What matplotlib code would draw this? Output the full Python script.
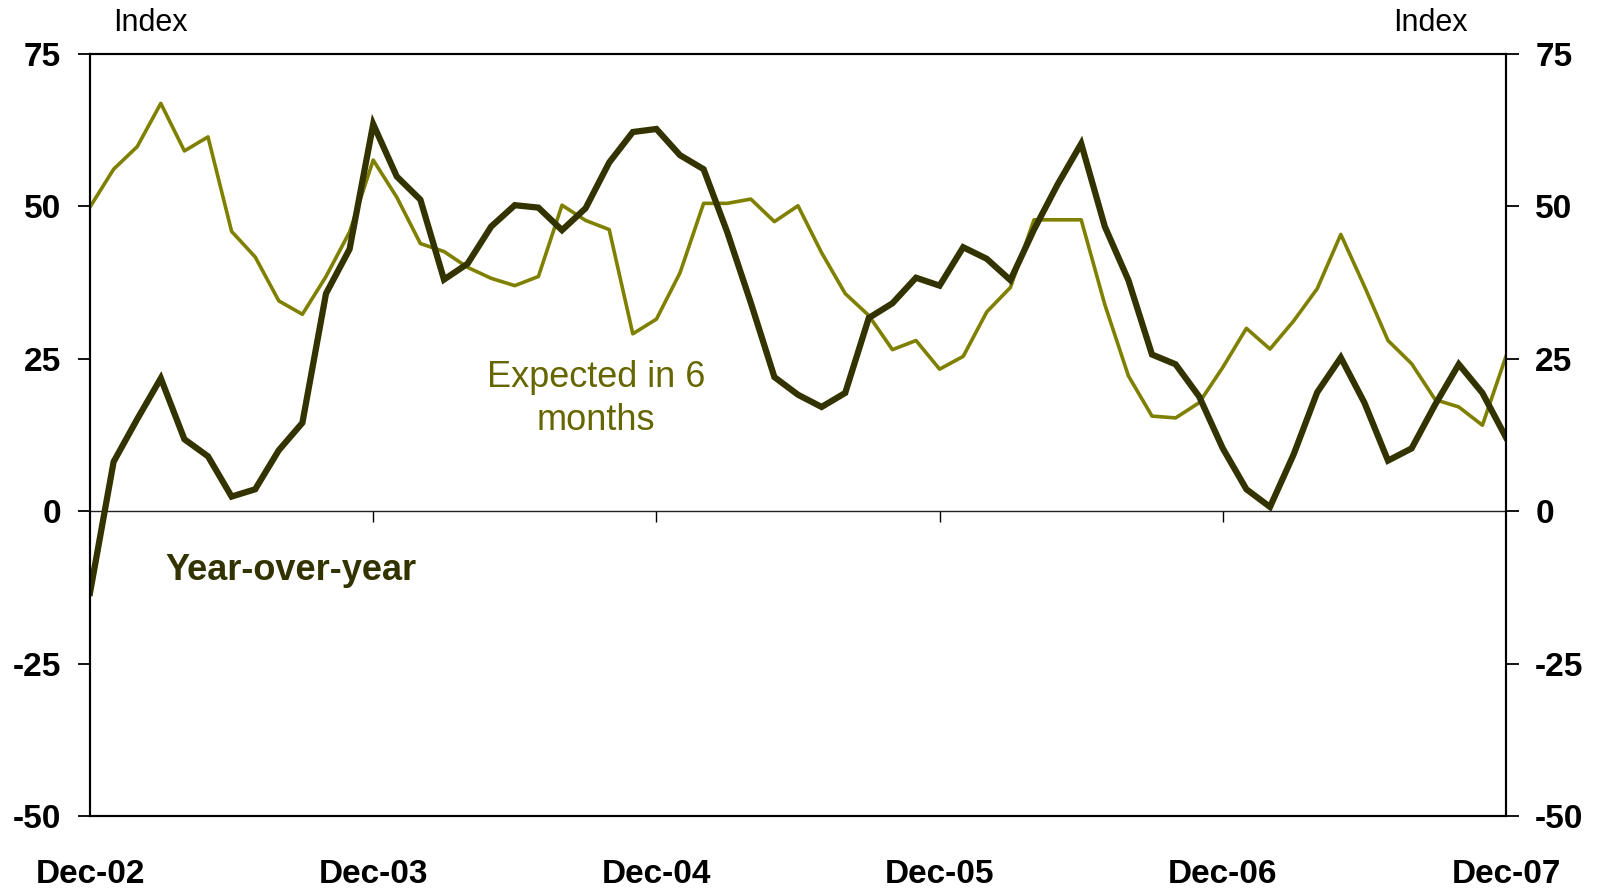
import numpy as np
import matplotlib
matplotlib.use("Agg")
import matplotlib.pyplot as plt

plt.rcParams['font.family'] = ['Liberation Sans', 'DejaVu Sans']

# ---- data ----
tick_labels = ["Dec-02", "Dec-03", "Dec-04", "Dec-05", "Dec-06", "Dec-07"]
yoy = [-13.4, 8.1, 15.1, 21.8, 11.8, 9.0, 2.4, 3.6, 10.0, 14.5,
       35.7, 43.0, 63.5, 54.9, 51.1, 38.0, 40.6, 46.7, 50.2, 49.8,
       46.1, 49.7, 57.2, 62.2, 62.7, 58.4, 56.1, 45.8, 34.2, 22.0,
       19.1, 17.1, 19.4, 31.7, 34.1, 38.3, 37.0, 43.3, 41.4, 37.9,
       46.2, 53.6, 60.3, 46.7, 37.9, 25.7, 24.1, 18.8, 10.3, 3.6,
       0.7, 9.3, 19.5, 25.2, 17.8, 8.3, 10.3, 17.5, 24.1, 19.4, 12.1]
expected_6m = [49.9, 56.1, 59.8, 66.9, 59.1, 61.4, 45.9, 41.7, 34.5, 32.3,
               38.5, 45.8, 57.6, 51.5, 43.9, 42.6, 40.0, 38.2, 37.0, 38.5,
               50.2, 47.7, 46.2, 29.1, 31.5, 39.1, 50.5, 50.5, 51.2, 47.5,
               50.1, 42.4, 35.7, 32.1, 26.5, 28.0, 23.3, 25.4, 32.7, 36.7,
               47.8, 47.8, 47.8, 33.9, 22.2, 15.6, 15.3, 17.8, 23.6, 30.0,
               26.6, 31.2, 36.5, 45.4, 36.9, 28.0, 24.2, 18.3, 17.1, 14.1, 25.4]
y_ticks = [-50, -25, 0, 25, 50, 75]

months = np.arange(len(yoy))
tick_pos = np.arange(0, len(yoy), 12)

DARK = "#333300"
OLIVE = "#808000"
OLIVE_TXT = "#666600"

W, H = 1601, 889
fig = plt.figure(figsize=(W / 100, H / 100), dpi=100)
L, R, T, B = 90, 1506, 54, 816
ax = fig.add_axes([L / W, 1 - B / H, (R - L) / W, (B - T) / H])

ax.plot(months, expected_6m, color=OLIVE, lw=2.6, zorder=3)
ax.plot(months, yoy, color=DARK, lw=4.5, zorder=4, solid_joinstyle='miter')

ax.set_xlim(0, len(yoy) - 1)
ax.set_ylim(-50, 75)
ax.axhline(0, color="#222222", lw=1.0, zorder=2)

for s in ax.spines.values():
    s.set_linewidth(1.5)
    s.set_color("black")

ax.set_yticks(y_ticks)
ax.set_yticklabels([str(v) for v in y_ticks])
ax.tick_params(axis='y', direction='out', length=9, width=1.3, pad=12,
               labelsize=24)
for lab in ax.get_yticklabels():
    lab.set_fontweight('bold')

ax.set_xticks(tick_pos)
ax.set_xticklabels(tick_labels)
ax.tick_params(axis='x', length=0, pad=31, labelsize=24)
for lab in ax.get_xticklabels():
    lab.set_fontweight('bold')

# right axis
ax2 = ax.twinx()
ax2.set_ylim(-50, 75)
ax2.set_yticks(y_ticks)
ax2.set_yticklabels([str(v) for v in y_ticks])
ax2.tick_params(axis='y', direction='out', length=9, width=1.3, pad=12,
                labelsize=24)
for lab in ax2.get_yticklabels():
    lab.set_fontweight('bold')
for s in ax2.spines.values():
    s.set_linewidth(1.5)

# small ticks on the zero line
sec = ax.secondary_xaxis(50 / 125)
sec.set_xticks(tick_pos[1:-1])
sec.tick_params(axis='x', direction='out', length=8, width=1.0, labelbottom=False,
                labelsize=1)
sec.set_xticklabels([""] * len(tick_pos[1:-1]))
sec.spines['bottom'].set_visible(False)

# labels
ax.text(21.44, 18.4, "Expected in 6\nmonths", color=OLIVE_TXT, fontsize=26,
        ha='center', va='center', linespacing=1.3, zorder=5)
ax.text(8.52, -9.65, "Year-over-year", color=DARK, fontsize=26,
        fontweight='bold', ha='center', va='center', zorder=5)

fig.text(150 / W, 1 - 23 / H, "Index", fontsize=22, ha='center', va='center')
fig.text(1430 / W, 1 - 23 / H, "Index", fontsize=22, ha='center', va='center')

fig.savefig("out.png", dpi=100)
